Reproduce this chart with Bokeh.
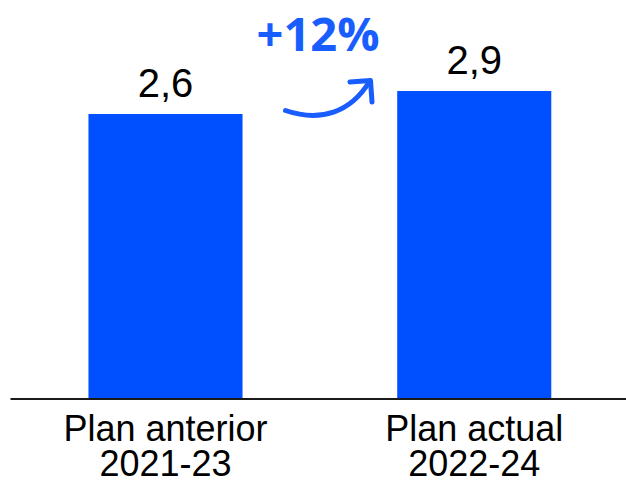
from bokeh.plotting import figure
from bokeh.models import Range1d, ColumnDataSource
from bokeh.embed import file_html
from bokeh.resources import INLINE
from bokeh.core.properties import value

# ---- data ----
categories = ["Plan anterior\n2021-23", "Plan actual\n2022-24"]
values = [2.6, 2.9]
value_labels = ["2,6", "2,9"]
change_label = "+12%"

# ---- layout constants ----
W, H = 626, 485
X0, X1 = -0.5344, 1.4931
Y0, Y1 = -2.2454, 4.0804
FLOOR = -1.1172          # value at which the bars start (axis line)
BAR_COLOR = "#0050FF"
ACCENT = "#1A5DFF"

upp = (Y1 - Y0) / H      # data units per pixel (vertical)
xpp = (X1 - X0) / W      # data units per pixel (horizontal)


def px_x(px):
    return X0 + px * xpp


def px_y(py):
    return Y1 - py * upp


xs = list(range(len(categories)))
line1 = [c.split("\n")[0] for c in categories]
line2 = [c.split("\n")[1] for c in categories]

src = ColumnDataSource(dict(
    x=xs, top=values, bottom=[FLOOR] * len(xs),
    lab=value_labels, lab_y=[v + 31.3 * upp for v in values],
    l1=line1, l2=line2,
    l1_y=[FLOOR - 29.2 * upp] * len(xs),
    l2_y=[FLOOR - 63.5 * upp] * len(xs),
))

p = figure(width=W, height=H, output_backend="svg", toolbar_location=None,
           x_range=Range1d(X0, X1), y_range=Range1d(Y0, Y1),
           x_axis_location=None, y_axis_location=None, min_border=0)
p.outline_line_color = None
p.xgrid.visible = False
p.ygrid.visible = False
p.background_fill_color = "white"
p.border_fill_color = "white"

p.vbar(x="x", top="top", bottom="bottom", width=0.499, source=src,
       fill_color=BAR_COLOR, line_color=None)

# axis line
p.segment(x0=[px_x(10)], y0=[FLOOR], x1=[X1], y1=[FLOOR],
          line_color="#1a1a1a", line_width=2)

# value labels
p.text(x="x", y="lab_y", text="lab", source=src, text_align="center",
       text_baseline="alphabetic", text_font=value("Liberation Sans"),
       text_font_size="40px", text_color="black")

# category labels
for col_t, col_y in (("l1", "l1_y"), ("l2", "l2_y")):
    p.text(x="x", y=col_y, text=col_t, source=src, text_align="center",
           text_baseline="alphabetic", text_font=value("Liberation Sans"),
           text_font_size="36px", text_color="black")

# change annotation
p.text(x=[px_x(317.5)], y=[px_y(32)], text=[change_label], text_align="center",
       text_baseline="alphabetic", text_font=value("Open Sans"),
       text_font_style="bold", text_font_size="47px", text_color=ACCENT)

p.bezier(x0=[px_x(285)], y0=[px_y(110)], x1=[px_x(369)], y1=[px_y(81)],
         cx0=[px_x(320)], cy0=[px_y(122)], cx1=[px_x(350)], cy1=[px_y(112)],
         line_color=ACCENT, line_width=5, line_cap="round")
p.line(x=[px_x(349.5), px_x(370), px_x(371.5)], y=[px_y(81.5), px_y(80), px_y(101.5)],
       line_color=ACCENT, line_width=5, line_cap="round", line_join="round")

open("out.html", "w").write(file_html(p, INLINE))
